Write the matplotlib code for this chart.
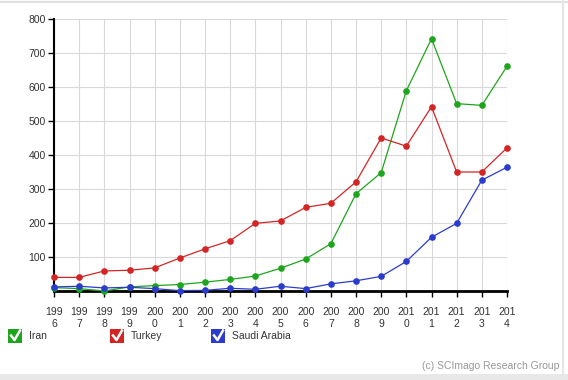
import matplotlib
matplotlib.use("Agg")
import matplotlib.pyplot as plt
from matplotlib.patches import Rectangle
from matplotlib.lines import Line2D

years = list(range(1996, 2015))
iran = [10, 7, 0, 12, 16, 19, 26, 34, 44, 67, 94, 139, 286, 348, 589, 742, 551, 546, 661]
turkey = [40, 40, 59, 61, 68, 97, 124, 148, 199, 206, 246, 258, 321, 450, 426, 542, 350, 350, 421]
saudi = [12, 14, 9, 11, 7, 1, 2, 8, 5, 14, 7, 21, 30, 43, 87, 158, 199, 326, 364]
series_names = ["Iran", "Turkey", "Saudi Arabia"]
colors = ["#1ea51e", "#d42525", "#2b3ccc"]
y_ticks = [100, 200, 300, 400, 500, 600, 700, 800]

plt.rcParams['font.family'] = ['Liberation Sans', 'DejaVu Sans']

W, H = 568, 380
fig = plt.figure(figsize=(W / 100, H / 100), dpi=100)

# outer frame
fig.patches.append(Rectangle((0, 0), 1, 6 / H, transform=fig.transFigure,
                             facecolor="#e8e8e8", edgecolor="none", zorder=0))
fig.lines.append(Line2D([0, 1], [1 - 1.5 / H] * 2, transform=fig.transFigure,
                        color="#e0e0e0", lw=1.5))
fig.lines.append(Line2D([1 - 5 / W] * 2, [6 / H, 1], transform=fig.transFigure,
                        color="#e6e6e6", lw=1.5))

ax = fig.add_axes([54 / W, 1 - 291 / H, (507 - 54) / W, (291 - 19) / H])
ax.set_xlim(1996, 2014)
ax.set_ylim(0, 800)

for vals, c in zip([iran, turkey, saudi], colors):
    ax.plot(years, vals, color=c, lw=0.9, marker="o", markersize=4.8,
            markeredgewidth=0, clip_on=False, zorder=3)

ax.set_xticks(years)
ax.set_xticklabels([f"{str(y)[:3]}\n{str(y)[3]}" for y in years], fontsize=7.5,
                   color="#333333", linespacing=1.22)
ax.set_yticks(y_ticks)
ax.set_yticklabels([str(v) for v in y_ticks], fontsize=7.5, color="#333333")
ax.grid(True, color="#d9d9d9", lw=0.8)
ax.set_axisbelow(True)
for s in ["top", "right"]:
    ax.spines[s].set_visible(False)
ax.spines["left"].set_linewidth(1.5)
ax.spines["bottom"].set_linewidth(2)
ax.tick_params(axis="both", length=4, width=1, color="black")
ax.tick_params(axis="x", pad=7.5)
ax.tick_params(axis="y", pad=2)

# legend with checkboxes
box_x = [8, 110, 211]
box_y = 329
box_s = 14
for bx, name, c in zip(box_x, series_names, colors):
    fig.patches.append(Rectangle((bx / W, 1 - (box_y + box_s) / H), box_s / W, box_s / H,
                                 transform=fig.transFigure, facecolor=c,
                                 edgecolor="none"))
    cx = [bx + 3, bx + 6.5, bx + 12]
    cy = [box_y + 6.5, box_y + 11, box_y + 1.5]
    fig.lines.append(Line2D([x / W for x in cx], [1 - y / H for y in cy],
                            transform=fig.transFigure, color="white", lw=1.8))
    fig.text((bx + box_s + 7) / W, 1 - (box_y + box_s / 2) / H, name, fontsize=7.5,
             color="#333333", va="center", ha="left")

fig.text(559 / W, 1 - 366 / H, "(c) SCImago Research Group", fontsize=7.5,
         color="#999999", ha="right", va="center")

fig.savefig("out.png", dpi=100)
